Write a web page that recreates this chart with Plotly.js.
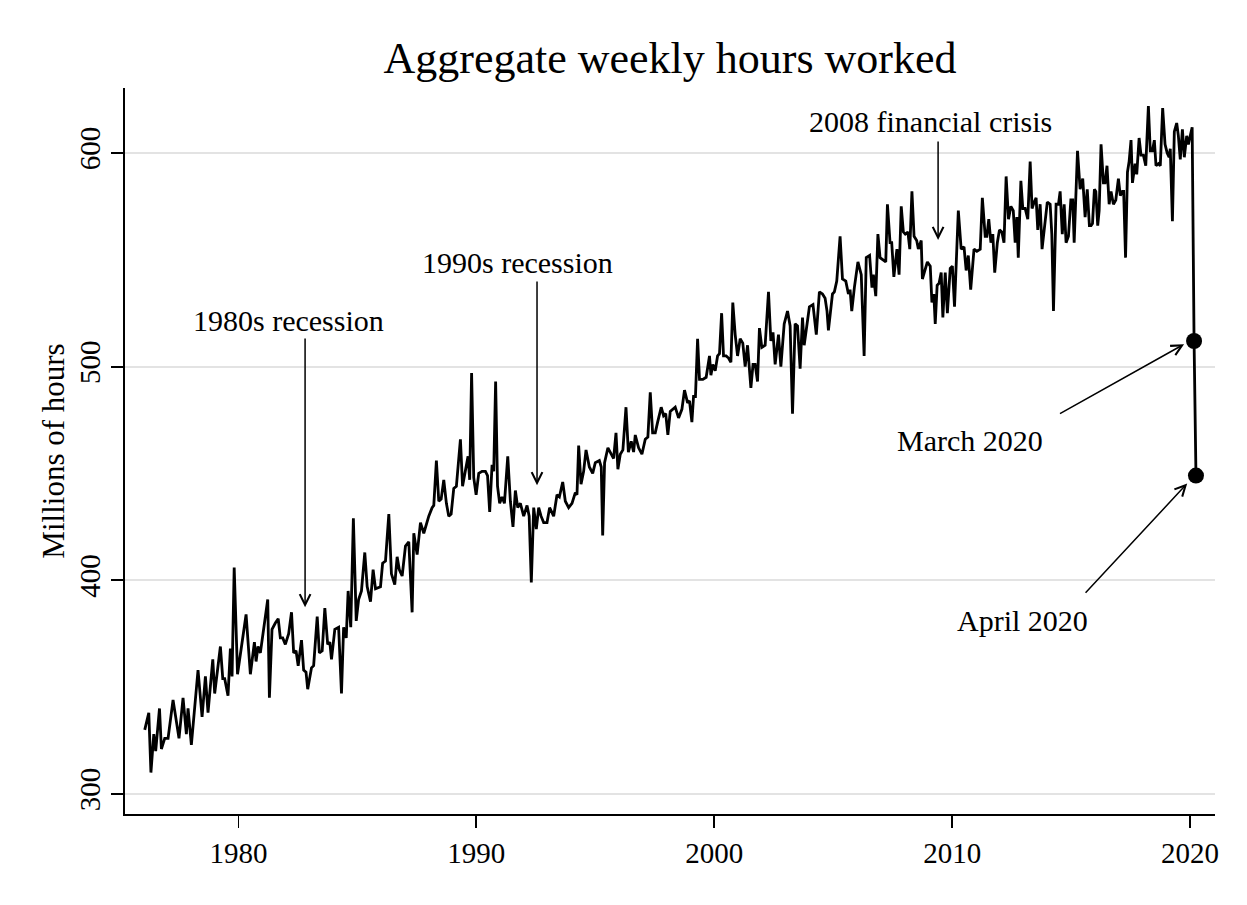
<!DOCTYPE html>
<html>
<head>
<meta charset="utf-8">
<script src="https://cdn.plot.ly/plotly-3.0.1.min.js"></script>
<style>html,body{margin:0;padding:0;background:#fff;}#chart{width:1247px;height:905px;}</style>
</head>
<body>
<div id="chart"></div>
<script>
const years = [
1976.06,1976.23,1976.32,1976.44,1976.52,1976.68,1976.76,1976.9,1977.04,1977.25,1977.5,1977.67,1977.81,1977.88,
1978.02,1978.3,1978.47,1978.61,1978.72,1978.92,1979.0,1979.24,1979.34,1979.42,1979.56,1979.66,1979.73,1979.82,1979.96,
1980.08,1980.32,1980.5,1980.67,1980.74,1980.82,1980.92,1981.06,1981.23,1981.3,1981.41,1981.55,1981.67,1981.76,1981.86,1981.97,
1982.11,1982.23,1982.32,1982.42,1982.51,1982.65,1982.74,1982.84,1982.91,1983.07,1983.16,1983.31,1983.4,1983.52,1983.63,1983.75,1983.84,1983.91,
1984.05,1984.21,1984.33,1984.42,1984.53,1984.61,1984.72,1984.83,1984.95,1985.05,1985.17,1985.31,1985.41,1985.55,1985.66,1985.76,1985.97,
1986.06,1986.18,1986.32,1986.43,1986.57,1986.67,1986.76,1986.88,1987.02,1987.16,1987.3,1987.37,1987.51,1987.65,1987.79,
1988.0,1988.14,1988.21,1988.32,1988.42,1988.52,1988.63,1988.74,1988.84,1988.94,1989.05,1989.16,1989.33,1989.42,1989.54,1989.65,1989.72,1989.8,1989.89,1989.99,
1990.1,1990.24,1990.38,1990.47,1990.56,1990.66,1990.73,1990.81,1990.89,1990.98,1991.08,1991.18,1991.32,1991.43,1991.54,1991.64,1991.74,1991.85,1991.99,
1992.13,1992.22,1992.31,1992.41,1992.52,1992.62,1992.72,1992.83,1992.97,1993.08,1993.25,1993.39,1993.49,1993.63,1993.74,1993.88,
1994.02,1994.16,1994.23,1994.3,1994.4,1994.51,1994.61,1994.75,1994.89,1995.0,1995.17,1995.25,1995.31,1995.39,1995.53,1995.67,1995.77,1995.87,1995.95,
1996.05,1996.16,1996.29,1996.39,1996.51,1996.61,1996.68,1996.82,1996.96,1997.1,1997.21,1997.31,1997.41,1997.52,1997.62,1997.77,1997.87,1997.96,
1998.05,1998.15,1998.36,1998.5,1998.64,1998.75,1998.88,1998.96,1999.06,1999.13,1999.21,1999.3,1999.38,1999.52,1999.66,1999.8,1999.86,1999.94,
2000.04,2000.14,2000.22,2000.31,2000.39,2000.5,2000.6,2000.7,2000.78,2000.88,2000.98,2001.09,2001.2,2001.3,2001.4,2001.54,2001.63,2001.72,2001.82,2001.9,
2002.0,2002.14,2002.28,2002.38,2002.47,2002.56,2002.7,2002.8,2002.94,2003.08,2003.19,2003.29,2003.4,2003.5,2003.61,2003.71,2003.78,2003.89,
2004.0,2004.15,2004.29,2004.42,2004.55,2004.66,2004.74,2004.8,2004.97,2005.05,2005.15,2005.29,2005.39,2005.53,2005.64,2005.71,2005.78,2005.89,
2006.04,2006.18,2006.3,2006.39,2006.53,2006.63,2006.69,2006.79,2006.88,2006.97,2007.11,2007.21,2007.28,2007.39,2007.46,2007.55,2007.68,2007.77,2007.86,2007.95,
2008.03,2008.14,2008.22,2008.31,2008.4,2008.51,2008.58,2008.7,2008.75,2008.87,2008.96,2009.08,2009.15,2009.23,2009.29,2009.37,2009.45,2009.54,2009.61,2009.71,2009.8,2009.92,
2010.01,2010.1,2010.26,2010.38,2010.5,2010.59,2010.68,2010.78,2010.92,2011.04,2011.18,2011.27,2011.39,2011.46,2011.54,2011.63,2011.71,2011.79,2011.9,2011.99,
2012.09,2012.18,2012.27,2012.37,2012.47,2012.57,2012.65,2012.72,2012.78,2012.89,2012.97,2013.07,2013.18,2013.28,2013.36,2013.45,2013.53,2013.6,2013.7,2013.78,2013.91,
2014.0,2014.12,2014.19,2014.26,2014.37,2014.47,2014.54,2014.63,2014.71,2014.79,2014.89,2014.99,2015.07,2015.13,2015.27,2015.38,2015.49,2015.59,2015.68,2015.77,2015.84,2015.9,2015.98,
2016.04,2016.12,2016.18,2016.26,2016.36,2016.43,2016.51,2016.6,2016.68,2016.78,2016.88,2016.99,2017.07,2017.16,2017.21,2017.29,2017.37,2017.44,2017.52,2017.58,2017.69,2017.76,2017.86,2017.94,
2018.04,2018.14,2018.25,2018.33,2018.42,2018.5,2018.57,2018.67,2018.75,2018.85,2018.95,2019.04,2019.12,2019.17,2019.26,2019.34,2019.44,2019.51,2019.59,2019.68,2019.76,2019.86,2019.93,
2020.0,2020.09,2020.17,2020.25
];
// Aggregate weekly hours worked, millions
const hours = [
330,338,310,328,320,340,321,326,326,344,326,345,328,340,
323,358,336,355,338,363,347,369,354,354,346,368,355,406,356,
366,384,356,371,362,369,366,378,391,345,377,380,382,373,373,370,
375,385,366,367,360,372,358,357,349,359,360,383,366,367,387,370,371,363,
377,378,347,378,373,395,378,429,381,391,395,413,397,390,405,396,397,
408,409,431,403,398,411,405,402,416,418,385,422,412,427,422,
430,434,435,456,437,438,447,436,430,431,443,444,466,444,451,458,447,497,448,440,
450,451,451,449,432,454,451,493,444,436,439,436,458,437,425,442,434,436,430,
435,430,399,434,424,434,430,427,427,434,430,440,439,446,437,434,
436,441,440,463,445,451,461,453,450,455,456,453,421,455,462,459,457,469,452,
459,461,481,460,465,460,468,462,459,466,467,488,469,469,474,481,477,478,
468,479,481,476,480,489,483,484,474,486,486,513,494,494,495,505,496,501,
498,505,506,525,505,505,504,502,530,515,505,513,511,500,510,490,501,501,493,518,
509,510,535,512,516,501,515,500,520,526,519,478,520,519,499,523,510,519,
528,529,515,535,534,532,526,517,534,535,540,561,541,540,534,536,526,537,
549,543,505,551,552,537,543,533,562,551,550,549,576,558,558,542,555,543,575,563,
562,563,555,582,561,559,555,559,541,545,549,547,530,534,520,538,539,544,523,544,525,546,
547,528,573,555,556,545,552,536,555,554,555,579,561,561,569,558,562,544,558,564,
563,558,589,569,575,573,558,570,551,587,574,574,569,596,574,577,579,564,576,555,570,
577,576,562,526,576,576,582,562,576,558,561,578,578,558,601,583,588,570,583,566,566,567,583,
582,566,573,604,586,586,594,576,582,576,578,588,580,582,582,551,591,596,606,586,595,590,607,599,
599,594,622,601,601,606,594,595,594,621,604,600,598,602,568,610,614,608,597,611,598,608,604,
608,612,512,449
];
// Highlighted months
const pointYears = [2020.17, 2020.25];
const pointHours = [512, 449];
const xTicks = [1980, 1990, 2000, 2010, 2020];
const yTicks = [300, 400, 500, 600];

const serif = "Liberation Serif, Times New Roman, serif";

const traces = [
  {x: years, y: hours, type: 'scatter', mode: 'lines',
   line: {color: '#000', width: 2.8}, hoverinfo: 'x+y', showlegend: false},
  {x: pointYears, y: pointHours, type: 'scatter', mode: 'markers',
   marker: {color: '#000', size: 16}, showlegend: false}
];

function label(txt, x, y) {
  return {text: txt, x: x, y: y, xref: 'x', yref: 'y', showarrow: false,
          xanchor: 'center', yanchor: 'middle', font: {family: serif, size: 30, color: '#000'}};
}
function arrow(x, y, ax, ay) {
  return {text: '', x: x, y: y, ax: ax, ay: ay, xref: 'x', yref: 'y', axref: 'x', ayref: 'y',
          showarrow: true, arrowhead: 5, arrowsize: 1.4, arrowwidth: 1.5, arrowcolor: '#000',
          standoff: 0, startstandoff: 0};
}

const layout = {
  width: 1247, height: 905,
  paper_bgcolor: '#fff', plot_bgcolor: '#fff',
  margin: {l: 125, r: 32, t: 88, b: 91},
  title: {text: 'Aggregate weekly hours worked', x: 0.5, xref: 'paper', xanchor: 'center',
          y: 0.936, yref: 'container', yanchor: 'middle',
          font: {family: serif, size: 44, color: '#000'}},
  xaxis: {range: [1975.23, 2021.05], tickvals: xTicks, ticktext: xTicks.map(String),
          showgrid: false, zeroline: false, showline: true, linecolor: '#000', linewidth: 1.8,
          ticks: 'outside', ticklen: 12, tickwidth: 1.8, tickcolor: '#000',
          tickfont: {family: serif, size: 29, color: '#000'}},
  yaxis: {range: [290.6, 630.4], tickvals: yTicks, ticktext: yTicks.map(String), tickangle: -90,
          showgrid: true, gridcolor: '#e3e3e3', gridwidth: 2, zeroline: false,
          showline: true, linecolor: '#000', linewidth: 1.8,
          ticks: 'outside', ticklen: 12, tickwidth: 1.8, tickcolor: '#000',
          tickfont: {family: serif, size: 29, color: '#000'},
          title: {text: 'Millions of hours', standoff: 0, font: {family: serif, size: 31, color: '#000'}}},
  annotations: [
    label('1980s recession', 1982.12, 521.8),
    arrow(1982.8, 387.4, 1982.8, 513.8),
    label('1990s recession', 1991.71, 548.9),
    arrow(1992.55, 444.5, 1992.55, 540.5),
    label('2008 financial crisis', 2009.07, 614.5),
    arrow(2009.41, 559.3, 2009.41, 606.1),
    label('March 2020', 2010.76, 465.6),
    arrow(2019.75, 510.5, 2014.47, 477.6),
    label('April 2020', 2012.94, 381.3),
    arrow(2019.88, 445.3, 2015.55, 393.4)
  ]
};

Plotly.newPlot('chart', traces, layout, {displayModeBar: false, staticPlot: true});
</script>
</body>
</html>
